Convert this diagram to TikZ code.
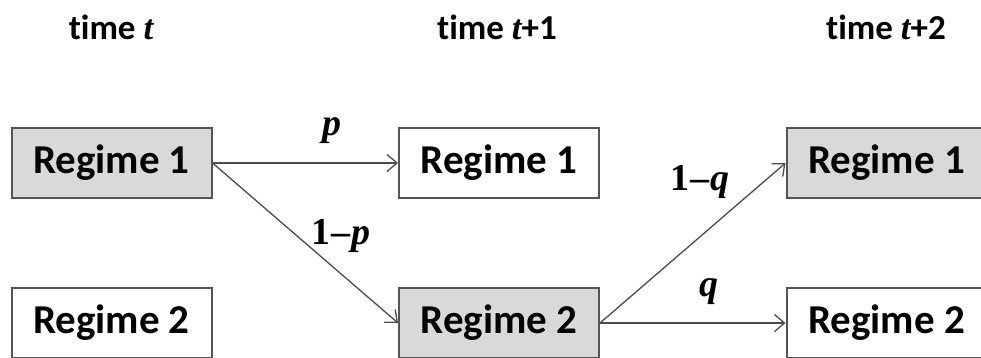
\documentclass[tikz,border=0pt]{standalone}
\usepackage{fontspec}
\setmainfont[Ligatures={NoCommon}]{Carlito}
\newfontfamily\probfont{Liberation Serif}
\usetikzlibrary{positioning,arrows.meta}
\definecolor{boxgray}{RGB}{217,217,217}
\definecolor{edgegray}{RGB}{85,85,85}
\newcommand{\pvar}[1]{{\probfont\bfseries\itshape #1}}
\newcommand{\pone}{{\probfont\bfseries 1\kern1pt\textendash\kern1pt}}
\tikzset{
  regime/.style={draw=edgegray, line width=2pt, minimum width=200pt, minimum height=70pt,
    inner sep=0pt, font=\fontsize{41}{48}\selectfont\bfseries},
  current/.style={regime, fill=boxgray},
  other/.style={regime, fill=white},
  trans/.style={-{Straight Barb[length=10pt,width=17pt,line width=1.3pt]}, draw=black!70, line width=1.3pt},
  prob/.style={font=\fontsize{38}{44}\selectfont},
  timelabel/.style={font=\fontsize{35}{40}\selectfont\bfseries}
}
\begin{document}
\begin{tikzpicture}[x=1pt,y=-1pt]
  \useasboundingbox (0,0) rectangle (981,358);

  % Time headers
  \node[timelabel] (tzero) at (111,27) {time \pvar{t}};
  \node[timelabel] (tone) at (497,27) {time \pvar{t}+1};
  \node[timelabel] (ttwo) at (886,27) {time \pvar{t}+2};

  % Regimes at time t
  \node[current] (aone) at (111.5,163) {Regime 1};
  \node[other] (atwo) at (111.5,323) {Regime 2};

  % Regimes at time t+1
  \node[other] (bone) at (499,163) {Regime 1};
  \node[current] (btwo) at (499,323) {Regime 2};

  % Regimes at time t+2
  \node[current] (cone) at (886.5,163) {Regime 1};
  \node[other] (ctwo) at (886.5,323) {Regime 2};

  % Transitions
  \draw[trans] (aone.east) -- (bone.west);
  \draw[trans] (aone.east) -- (btwo.west);
  \draw[trans] (btwo.east) -- (cone.west);
  \draw[trans] (btwo.east) -- (ctwo.west);

  % Probabilities
  \node[prob] (pstay) at (332,131) {\pvar{p}};
  \node[prob] (pmove) at (341,236) {\pone\pvar{p}};
  \node[prob] (qmove) at (700,182) {\pone\pvar{q}};
  \node[prob] (qstay) at (709,292) {\pvar{q}};
\end{tikzpicture}
\end{document}
